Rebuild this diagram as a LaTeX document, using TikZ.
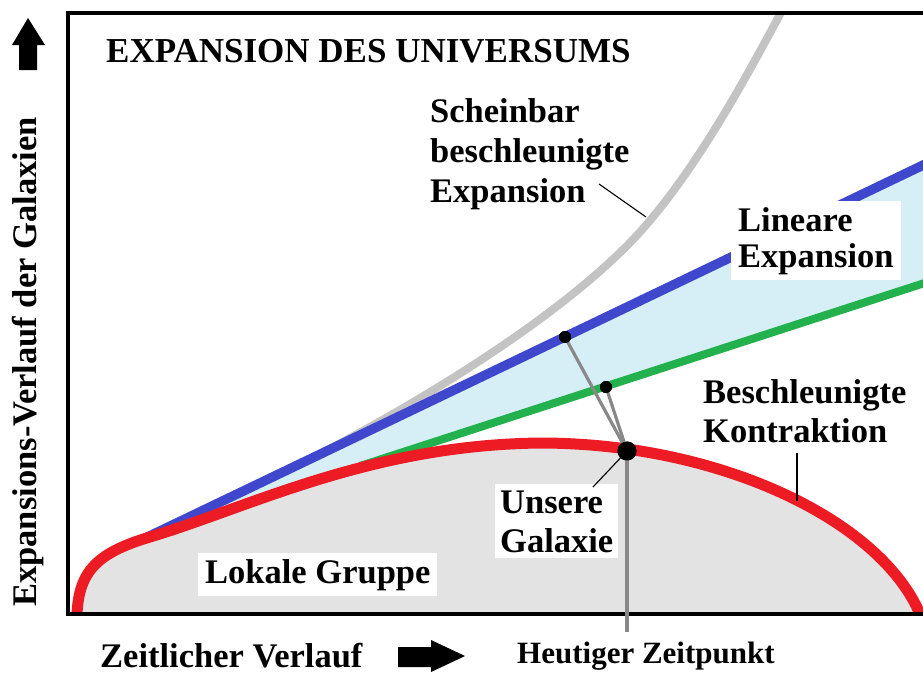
\documentclass[tikz,border=0pt]{standalone}
\usepackage{fontspec}
\setmainfont{Liberation Serif}
\definecolor{redL}{HTML}{ED1C24}
\definecolor{blueL}{HTML}{3F48CC}
\definecolor{greenL}{HTML}{22B14C}
\definecolor{grayc}{HTML}{C3C3C3}
\definecolor{lblue}{HTML}{D6EEF5}
\definecolor{lgray}{HTML}{E3E3E3}
\definecolor{conng}{HTML}{888888}
\newcommand\fsz[2]{\fontsize{#1}{#2}\selectfont\bfseries}
\begin{document}
\begin{tikzpicture}[x=1pt,y=-1pt,
  lbl/.style={font=\fsz{34.5}{40}, inner sep=0, align=left, anchor=base west},
  whitebox/.style={fill=white, inner xsep=7, inner ysep=6},
  leader/.style={black, line width=1.1},
  conn/.style={draw=conng, line width=3.2},
  dotS/.style={circle, fill=black, inner sep=0, minimum size=12},
  dotL/.style={circle, fill=black, inner sep=0, minimum size=19}
]
\fill[white] (0,0) rectangle (923,673);
\useasboundingbox (0,0) rectangle (923,673);

\begin{scope}
\clip (70,15) rectangle (923,612);
% light blue region between linear and green
\fill[lblue] (112,554) -- (940,157) -- (940,278) -- (360,466) -- (200,545) -- (112,575) -- cycle;
% apparent accelerated expansion
\draw[grayc, line width=8] (112,554) -- (300,464) .. controls (400,414) and (560,320) .. (640,232) .. controls (700,165) and (750,70) .. (785,5);
% linear expansion
\draw[blueL, line width=9.5] (112,554) -- (940,157);
% green
\draw[greenL, line width=8] (360,466) -- (940,278);
% local group
\fill[lgray] (77,612) .. controls (79,572) and (96,553) .. (150,537) .. controls (250,507) and (370,445) .. (540,443) .. controls (720,443) and (880,520) .. (920,612) -- cycle;
\draw[redL, line width=11] (77,614) .. controls (79,572) and (96,553) .. (150,537) .. controls (250,507) and (370,445) .. (540,443) .. controls (720,443) and (880,520) .. (920,614);
\end{scope}

% frame
\draw[line width=4.5] (923,13) -- (68,13) -- (68,614) -- (923,614);

% axis arrows
\fill (28,18) -- (45,45) -- (37,45) -- (37,70) -- (19,70) -- (19,45) -- (12,45) -- cycle;
\fill (398,647) -- (431,647) -- (431,640) -- (465,656) -- (431,672) -- (431,667) -- (398,667) -- cycle;

% galaxy and its projections
\node[dotL] (gal) at (627,451) {};
\node[dotS] (bdot) at (565,337) {};
\node[dotS] (gdot) at (606,387) {};
\coordinate (tbot) at (627,632);
\draw[conn] (gal.center) -- (bdot.center);
\draw[conn] (gal.center) -- (gdot.center);
\draw[conn] (gal.center) -- (tbot);
\node[dotL] at (gal) {};
\node[dotS] at (bdot) {};
\node[dotS] at (gdot) {};

% labels (multi-line nodes: base = last line)
\node[lbl, font=\fsz{35}{40}] (title) at (106,62) {EXPANSION DES UNIVERSUMS};
\node[lbl, font=\fsz{34.5}{40}] (schein) at (430,202) {Scheinbar\\beschleunigte\\Expansion};
\node[lbl, whitebox, font=\fsz{34.5}{36}] (linear) at (731,267) {Lineare\\Expansion};
\node[lbl, font=\fsz{34.5}{39}] (kontr) at (703,442) {Beschleunigte\\Kontraktion};
\node[lbl, whitebox, inner xsep=5, font=\fsz{34.5}{39}] (unsere) at (495,552) {Unsere\\Galaxie};
\node[lbl, whitebox] (lokal) at (198,583) {Lokale Gruppe};
\node[lbl] (zeit) at (100,667) {Zeitlicher Verlauf};
\node[lbl, font=\fsz{31}{36}] (heute) at (517,663) {Heutiger Zeitpunkt};
\node[lbl, rotate=90, anchor=base] (yax) at (36,362) {Expansions-Verlauf der Galaxien};

% leaders
\coordinate (sA) at (599,184);
\coordinate (sB) at (646,217);
\draw[leader] (sA) -- (sB);
\coordinate (kA) at (797,453);
\coordinate (kB) at (797,501);
\draw[leader] (kA) -- (kB);
\coordinate (uA) at (593,487);
\draw[leader] (uA) -- (gal.center);
\end{tikzpicture}
\end{document}
